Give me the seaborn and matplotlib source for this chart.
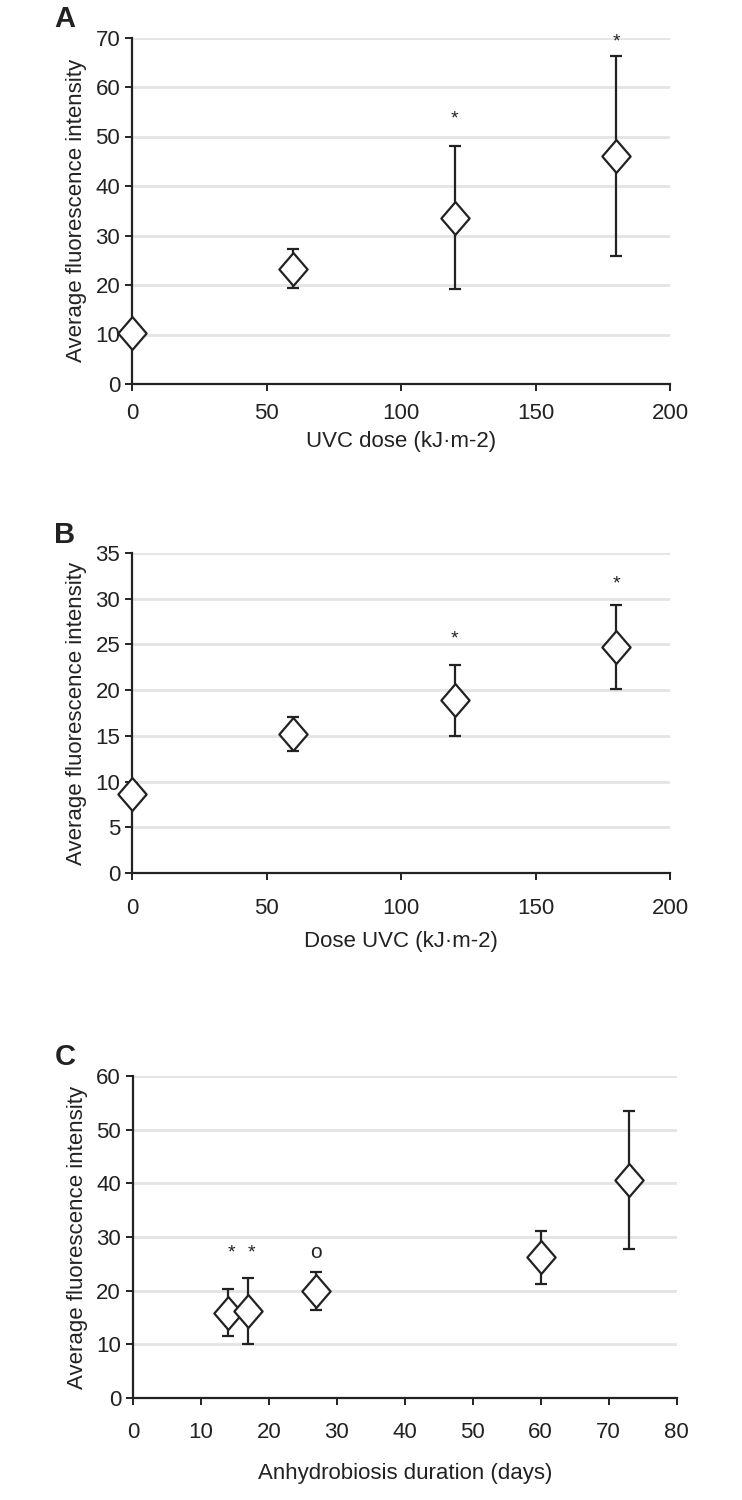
import numpy as np
import pandas as pd
import seaborn as sns
import matplotlib.pyplot as plt
from matplotlib.path import Path

# panel A: UVC dose
dose_a = [0, 60, 120, 180]
mean_a = [10.3, 23.3, 33.6, 46.0]
err_a = [2.0, 4.0, 14.4, 20.2]

# panel B: dose UVC
dose_b = [0, 60, 120, 180]
mean_b = [8.6, 15.2, 18.9, 24.7]
err_b = [1.2, 1.9, 3.9, 4.6]

# panel C: anhydrobiosis
days_c = [14, 17, 27, 60, 73]
mean_c = [15.9, 16.2, 19.9, 26.2, 40.6]
err_c = [4.35, 6.2, 3.5, 4.95, 12.85]

# significance marks (x, y, text)
marks_a = [(120, 53.5, '*'), (180, 69.0, '*')]
marks_b = [(120, 25.6, '*'), (180, 31.6, '*')]
marks_c = [(14.5, 27.0, '*'), (17.5, 27.0, '*'), (27, 27.2, 'o')]

sns.set_style('white')
plt.rcParams['font.family'] = ['Liberation Sans Narrow', 'Liberation Sans', 'DejaVu Sans']

diamond = Path([(0, 1), (0.86, 0), (0, -1), (-0.86, 0), (0, 1)],
               [Path.MOVETO, Path.LINETO, Path.LINETO, Path.LINETO, Path.CLOSEPOLY])

fig = plt.figure(figsize=(7.42, 15), dpi=100)

panels = [
    dict(pos=[0.178, 0.744, 0.725, 0.231], x=dose_a, y=mean_a, e=err_a, marks=marks_a,
         ylim=70, ystep=10, xlim=200, xstep=50, xlabel='UVC dose (kJ·m-2)', letter='A',
         tpad=9, lpad=5),
    dict(pos=[0.178, 0.418, 0.725, 0.2133], x=dose_b, y=mean_b, e=err_b, marks=marks_b,
         ylim=35, ystep=5, xlim=200, xstep=50, xlabel='Dose UVC (kJ·m-2)', letter='B',
         tpad=13, lpad=9),
    dict(pos=[0.179, 0.068, 0.733, 0.2147], x=days_c, y=mean_c, e=err_c, marks=marks_c,
         ylim=60, ystep=10, xlim=80, xstep=10, xlabel='Anhydrobiosis duration (days)', letter='C',
         tpad=12, lpad=15),
]

for p in panels:
    ax = fig.add_axes(p['pos'])
    df = pd.DataFrame({'x': p['x'], 'y': p['y']})
    ax.yaxis.grid(True, color='#e4e4e4', linewidth=2)
    ax.set_axisbelow(True)
    ax.errorbar(p['x'], p['y'], yerr=p['e'], fmt='none', ecolor='#222222',
                elinewidth=1.6, capsize=4, capthick=1.6, zorder=2)
    sns.scatterplot(data=df, x='x', y='y', ax=ax, marker=diamond, s=560,
                    facecolor='white', edgecolor='#222222', linewidth=1.6,
                    zorder=3, clip_on=False)
    for mx, my, mt in p['marks']:
        ax.text(mx, my, mt, ha='center', va='center', fontsize=14 if mt == '*' else 15,
                color='#222222')
    ax.set_xlim(0, p['xlim'])
    ax.set_ylim(0, p['ylim'])
    ax.set_xticks(np.arange(0, p['xlim'] + 1, p['xstep']))
    ax.set_yticks(np.arange(0, p['ylim'] + 1, p['ystep']))
    for s in ['top', 'right']:
        ax.spines[s].set_visible(False)
    for s in ['left', 'bottom']:
        ax.spines[s].set_color('#222222')
        ax.spines[s].set_linewidth(1.6)
    ax.tick_params(axis='both', direction='out', length=5, width=1.4, color='#222222',
                   labelsize=16, labelcolor='#222222', left=True, bottom=True)
    ax.tick_params(axis='x', pad=p['tpad'])
    ax.set_xlabel(p['xlabel'], fontsize=16, color='#222222', labelpad=p['lpad'])
    ax.set_ylabel('Average fluorescence intensity', fontsize=16, color='#222222', labelpad=6)
    fig.text(p['pos'][0] - 0.105, p['pos'][1] + p['pos'][3] + 0.003, p['letter'],
             fontsize=21, fontweight='bold', family=['Liberation Sans', 'DejaVu Sans'],
             ha='left', va='bottom', color='#222222')

fig.savefig('out.png', dpi=100)
